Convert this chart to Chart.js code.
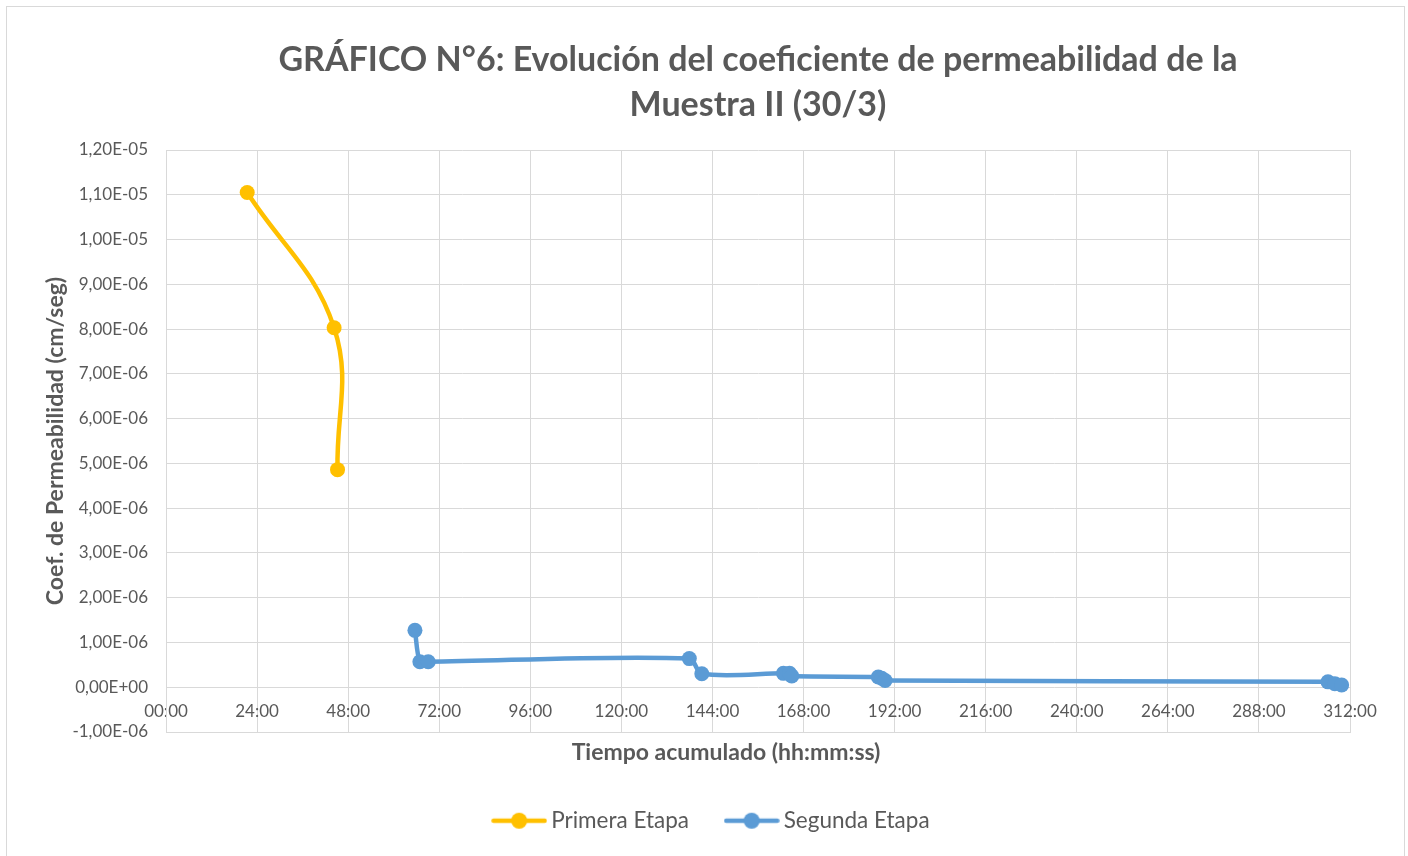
<!DOCTYPE html>
<html>
<head>
<meta charset="utf-8">
<script src="https://cdn.jsdelivr.net/npm/chart.js@4/dist/chart.umd.min.js"></script>
<style>
  html, body { margin: 0; padding: 0; background: #ffffff; }
  #wrap { position: relative; width: 1408px; height: 856px; overflow: hidden; }
  #frame { position: absolute; left: 6px; top: 6px; width: 1399px; height: 900px; border: 1.5px solid #d9d9d9; box-sizing: border-box; pointer-events: none; }
  canvas { position: absolute; left: 0; top: 0; }
</style>
</head>
<body>
<div id="wrap">
  <canvas id="c" width="1408" height="856"></canvas>
  <div id="frame"></div>
</div>
<script>
// ---- Data (x in accumulated hours, y in cm/seg) ----
const titleLines = ["GRÁFICO N°6: Evolución del coeficiente de permeabilidad de la", "Muestra II (30/3)"];
const seriesNames = ["Primera Etapa", "Segunda Etapa"];
const primeraHours = [21.4, 44.3, 45.2];
const primeraValues = [1.105e-5, 8.03e-6, 4.86e-6];
const segundaHours = [65.6, 66.9, 69.1, 137.9, 141.2, 162.7, 164.3, 164.9, 187.7, 188.6, 189.5, 306.2, 308.0, 309.8];
const segundaValues = [1.27e-6, 0.57e-6, 0.57e-6, 0.64e-6, 0.30e-6, 0.31e-6, 0.31e-6, 0.25e-6, 0.23e-6, 0.20e-6, 0.15e-6, 0.12e-6, 0.08e-6, 0.05e-6];
const xTickHours = [0, 24, 48, 72, 96, 120, 144, 168, 192, 216, 240, 264, 288, 312];
const yTickValues = [-1e-6, 0, 1e-6, 2e-6, 3e-6, 4e-6, 5e-6, 6e-6, 7e-6, 8e-6, 9e-6, 1e-5, 1.1e-5, 1.2e-5];
const xAxisTitle = "Tiempo acumulado (hh:mm:ss)";
const yAxisTitle = "Coef. de Permeabilidad (cm/seg)";

const colors = ["#FFC000", "#5B9BD5"];
const textColor = "#595959";
const gridColor = "#d9d9d9";
const FONT = "Lato, 'Open Sans', sans-serif";

function toPoints(xs, ys) { return xs.map((x, i) => ({ x: x, y: ys[i] })); }

function fmtHour(v) { return String(Math.round(v)).padStart(2, "0") + ":00"; }
function fmtSci(v) {
  if (Math.abs(v) < 1e-15) return "0,00E+00";
  const s = v.toExponential(2);
  const parts = s.split("e");
  const mant = parts[0].replace(".", ",");
  const exp = parseInt(parts[1], 10);
  return mant + "E" + (exp < 0 ? "-" : "+") + String(Math.abs(exp)).padStart(2, "0");
}

function legendIcon(color) {
  const cv = document.createElement("canvas");
  cv.width = 56; cv.height = 18;
  const g = cv.getContext("2d");
  g.strokeStyle = color; g.lineWidth = 4.5; g.lineCap = "round";
  g.beginPath(); g.moveTo(2.5, 9); g.lineTo(53.5, 9); g.stroke();
  g.fillStyle = color;
  g.beginPath(); g.arc(28, 9, 8, 0, Math.PI * 2); g.fill();
  return cv;
}
const icons = colors.map(legendIcon);

// x-axis title drawn under the plot (Excel places it slightly left of centre)
const xTitlePlugin = {
  id: "xTitle",
  afterDraw(chart) {
    const ctx = chart.ctx, a = chart.chartArea;
    ctx.save();
    ctx.font = "bold 23px " + FONT;
    ctx.fillStyle = textColor;
    ctx.textAlign = "center";
    ctx.textBaseline = "middle";
    ctx.fillText(xAxisTitle, a.left + (a.right - a.left) * 0.473, a.bottom + 21);
    ctx.restore();
  }
};

const LEG_PAD = 42;
const LEG_FONT = 22.5;
const LAYOUT_BOTTOM = 14;

new Chart(document.getElementById("c"), {
  type: "line",
  data: {
    datasets: [
      {
        label: seriesNames[0],
        data: toPoints(primeraHours, primeraValues),
        borderColor: colors[0], backgroundColor: colors[0],
        pointBackgroundColor: colors[0], pointBorderColor: colors[0],
        borderWidth: 4.5, pointRadius: 7.5, pointBorderWidth: 0,
        tension: 0.4, fill: false
      },
      {
        label: seriesNames[1],
        data: toPoints(segundaHours, segundaValues),
        borderColor: colors[1], backgroundColor: colors[1],
        pointBackgroundColor: colors[1], pointBorderColor: colors[1],
        borderWidth: 4.5, pointRadius: 7.5, pointBorderWidth: 0,
        tension: 0.3, fill: false
      }
    ]
  },
  plugins: [xTitlePlugin],
  options: {
    responsive: false,
    animation: false,
    devicePixelRatio: 1,
    layout: { padding: { left: 20, right: 0, top: 0, bottom: LAYOUT_BOTTOM } },
    plugins: {
      tooltip: { enabled: false },
      title: {
        display: true,
        fullSize: false,
        text: titleLines,
        color: textColor,
        font: { family: FONT, size: 34, weight: "bold", lineHeight: "45px" },
        padding: { top: 37.5, bottom: 22.5 }
      },
      legend: {
        display: true,
        position: "bottom",
        fullSize: true,
        labels: {
          usePointStyle: true,
          pointStyleWidth: 41.5,
          padding: LEG_PAD,
          color: textColor,
          font: { family: FONT, size: LEG_FONT },
          generateLabels: function (chart) {
            const items = Chart.defaults.plugins.legend.labels.generateLabels(chart);
            items.forEach((it, i) => { it.pointStyle = icons[i]; });
            return items;
          }
        }
      }
    },
    scales: {
      x: {
        type: "linear",
        position: "bottom",
        min: xTickHours[0],
        max: xTickHours[xTickHours.length - 1],
        afterBuildTicks: s => { s.ticks = xTickHours.map(v => ({ value: v })); },
        afterFit: s => { s.height = 856 - LAYOUT_BOTTOM - (LEG_FONT + LEG_PAD + 10) - 732; },
        grid: { color: gridColor, lineWidth: 1, drawTicks: false },
        border: { color: gridColor, width: 1 },
        ticks: {
          autoSkip: false, maxRotation: 0, minRotation: 0,
          mirror: true,
          padding: 10,
          color: textColor,
          font: { family: FONT, size: 17 },
          callback: v => fmtHour(v)
        },
        title: { display: false }
      },
      y: {
        type: "linear",
        position: "left",
        min: yTickValues[0],
        max: yTickValues[yTickValues.length - 1],
        afterBuildTicks: s => { s.ticks = yTickValues.map(v => ({ value: v })); },
        afterFit: s => { s.width = 146; },
        grid: { color: gridColor, lineWidth: 1, drawTicks: false },
        border: { color: gridColor, width: 1 },
        ticks: {
          padding: 18,
          color: textColor,
          font: { family: FONT, size: 17 },
          callback: v => fmtSci(v)
        },
        title: {
          display: true, text: yAxisTitle, color: textColor,
          font: { family: FONT, size: 23, weight: "bold", lineHeight: 1.0 },
          padding: { top: 24, bottom: 0 }
        }
      },
      yRight: {
        type: "linear",
        position: "right",
        display: true,
        afterFit: s => { s.width = 58; },
        grid: { display: false, drawTicks: false },
        border: { display: false },
        ticks: { display: false }
      }
    }
  }
});
</script>
</body>
</html>
